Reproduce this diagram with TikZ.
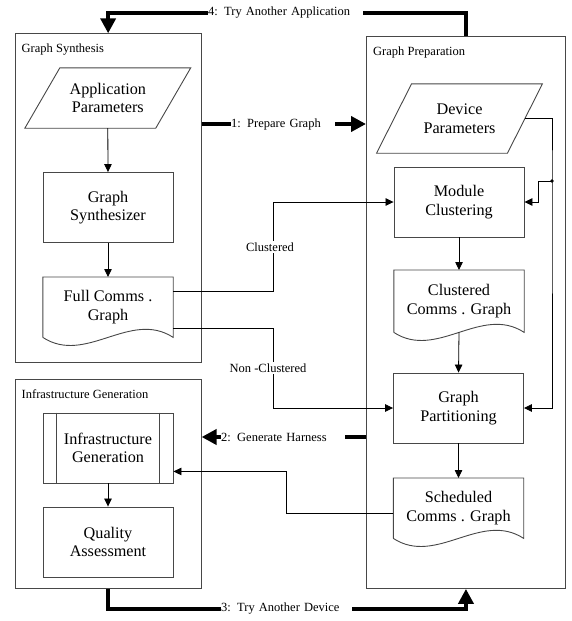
\documentclass[tikz,border=0pt]{standalone}
\usepackage{fontspec}
\setmainfont{Liberation Serif}
\usetikzlibrary{arrows.meta,calc}

% outline of a "document" flowchart symbol: straight top and sides, wavy bottom
\newcommand\docoutline[1]{%
  \draw[outline] (#1.south west) -- (#1.north west) -- (#1.north east) -- (#1.south east)
    .. controls ($(#1.south east)+(-43,-28)$) and ($(#1.south west)+(43,28)$) .. (#1.south west);}
% outline of a "data" symbol: parallelogram leaning right around a node
\newcommand\paraoutline[2]{%
  \draw[outline] ($(#1.south west)+(-#2,0)$) -- ($(#1.north west)+(#2,0)$)
    -- ($(#1.north east)+(#2,0)$) -- ($(#1.south east)+(-#2,0)$) -- cycle;}

\tikzset{
  x=1pt, y=-1pt,
  smalltext/.style={font=\fontsize{12.5}{14.5}\selectfont},
  bigtext/.style={font=\fontsize{16.2}{18.5}\selectfont},
  outline/.style={draw=black!72, line width=0.9pt},
  frame/.style={outline, rectangle, anchor=north west, inner sep=0pt},
  frametitle/.style={smalltext, anchor=west, inner sep=0pt},
  procbox/.style={outline, rectangle, bigtext, align=center,
    minimum width=130pt, minimum height=70pt, inner sep=2pt},
  docbox/.style={rectangle, bigtext, align=center, anchor=north,
    minimum width=130pt, inner sep=2pt},
  databox/.style={rectangle, bigtext, align=center,
    minimum width=130.5pt, inner sep=2pt},
  wire/.style={draw=black, line width=0.8pt},
  flow/.style={wire, -{Triangle[length=8pt,width=7.5pt]}},
  bigflow/.style={draw=black, line width=4pt, -{Triangle[length=15pt,width=15pt]}},
  flowlabel/.style={smalltext, fill=white, anchor=west, align=left,
    inner xsep=0pt, inner ysep=3pt},
  branchlabel/.style={smalltext, fill=white, inner xsep=1pt, inner ysep=2pt},
}

\begin{document}
\begin{tikzpicture}
\useasboundingbox (0,0) rectangle (572,621);

% ---- the three stage frames ----
\node[frame, minimum width=186pt, minimum height=329pt] (gs) at (14.7,33.3) {};
\node[frametitle] (gst) at (21.5,49.5) {Graph Synthesis};
\node[frame, minimum width=199pt, minimum height=552pt] (gp) at (366,36) {};
\node[frametitle] (gpt) at (373,52) {Graph Preparation};
\node[frame, minimum width=186pt, minimum height=209pt] (ig) at (14.7,379) {};
\node[frametitle] (igt) at (21.5,394) {Infrastructure Generation};

% ---- graph synthesis ----
\node[databox, minimum height=60pt] (app) at (107.8,98) {Application\\Parameters};
\paraoutline{app}{17.5}
\node[procbox] (synth) at (108,207.5) {Graph\\Synthesizer};
\node[docbox, minimum height=60pt] (fcg) at (108,277) {Full Comms .\\Graph};
\docoutline{fcg}

% ---- graph preparation ----
\node[databox, minimum height=69pt] (dev) at (459.5,118.5) {Device\\Parameters};
\paraoutline{dev}{17.5}
\node[procbox] (mc) at (459,202) {Module\\Clustering};
\node[docbox, minimum height=62pt] (ccg) at (459,270) {Clustered\\Comms . Graph};
\docoutline{ccg}
\node[procbox] (part) at (458.5,408) {Graph\\Partitioning};
\node[docbox, minimum height=60pt] (scg) at (458.5,478) {Scheduled\\Comms . Graph};
\docoutline{scg}

% ---- infrastructure generation ----
\node[procbox] (igen) at (108,448) {Infrastructure\\Generation};
\draw[outline] ($(igen.north west)+(14,0)$) -- ($(igen.south west)+(14,0)$);
\draw[outline] ($(igen.north east)+(-14,0)$) -- ($(igen.south east)+(-14,0)$);
\node[procbox] (qa) at (108,542) {Quality\\Assessment};

% ---- flows inside the stages ----
\draw[flow] (app.south) -- (synth.north);
\draw[flow] (synth.south) -- (fcg.north);
\draw[flow] (mc.south) -- (ccg.north);
\draw[flow] (ccg.south) -- (part.north);
\draw[flow] (part.south) -- (scg.north);
\draw[flow] (igen.south) -- (qa.north);

% device parameters feed both clustering and partitioning
\coordinate (tap) at (552,181);
\draw[flow] (dev.east) -| (tap) |- (part.east);
\draw[flow] (tap) -- ++(-14,0) |- (mc.east);
\fill (tap) circle (1.8pt);

% clustered / non-clustered routes of the full graph
\coordinate (bend) at (273,0);
\coordinate (cout) at ($(fcg.north east)+(0,14)$);
\coordinate (nout) at ($(fcg.north east)+(0,51)$);
\draw[flow] (cout) -| (bend |- mc.west) -- (mc.west);
\draw[flow] (nout) -| (bend |- part.west) -- (part.west);
\node[branchlabel] (lclu) at (270,247) {Clustered};
\node[branchlabel] (lnon) at (268,368) {Non -Clustered};

% scheduled graph back to infrastructure generation
\coordinate (sbend) at (286,0);
\coordinate (sout) at ($(scg.north west)+(0,35)$);
\coordinate (sin) at ($(igen.south east)+(0,-12)$);
\draw[flow] (sout) -| (sbend |- sin) -- (sin);

% ---- the numbered stage transitions ----
\coordinate (y1) at (0,124);
\coordinate (y2) at (0,437);
\coordinate (y3) at (0,609);
\coordinate (y4) at (0,12.7);
\draw[bigflow] (gs.east |- y1) -- (gp.west |- y1);
\node[flowlabel, text width=104pt] (l1) at (231,124) {1: Prepare Graph};
\draw[bigflow] (gp.west |- y2) -- (ig.east |- y2);
\node[flowlabel, text width=124pt] (l2) at (221,437) {2: Generate Harness};
\draw[bigflow] (ig.south) |- (gp.south |- y3) -- (gp.south);
\node[flowlabel, text width=131pt] (l3) at (221,609) {3: Try Another Device};
\draw[bigflow] (gp.north) |- (gs.north |- y4) -- (gs.north);
\node[flowlabel, text width=155pt] (l4) at (208,12.7) {4: Try Another Application};
\end{tikzpicture}
\end{document}
